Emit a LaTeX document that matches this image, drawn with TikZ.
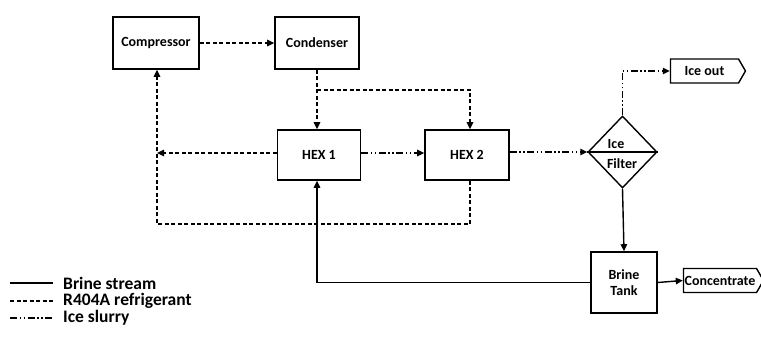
\documentclass[tikz,border=0pt]{standalone}
\usepackage{fontspec}
\setmainfont{Carlito}
\usetikzlibrary{shapes.geometric,shapes.symbols,arrows.meta}
\begin{document}
\begin{tikzpicture}[x=1pt,y=-1pt,
  lbl/.style={font=\bfseries\fontsize{14}{15.5}\selectfont},
  box/.style={draw,line width=1.6pt,rectangle,inner sep=0pt,lbl,align=center},
  tag/.style={draw,line width=1.4pt,signal,signal to=east,signal pointer angle=120,inner sep=1pt,lbl,minimum height=24},
  conn/.style={line width=1.4pt},
  tip/.style={-{Triangle[length=7pt,width=6.5pt]}},
  brine/.style={conn},
  refr/.style={conn,dash pattern=on 4pt off 2.5pt},
  slurry/.style={conn,dash pattern=on 7pt off 2.5pt on 1.5pt off 2.5pt on 1.5pt off 2.5pt},
  legtext/.style={anchor=west,inner sep=0pt,font=\bfseries\fontsize{17.5}{19}\selectfont}]
\useasboundingbox (0,0) rectangle (761,347);
\fill[white] (0,0) rectangle (761,347);
\node[box,minimum width=86,minimum height=52] (comp) at (156,43) {Compressor};
\node[box,minimum width=84,minimum height=52] (cond) at (317,43) {Condenser};
\node[box,minimum width=83,minimum height=50] (hex1) at (319,155) {HEX 1};
\node[box,minimum width=84,minimum height=50] (hex2) at (467,155) {HEX 2};
\node[draw,line width=1.4pt,diamond,minimum width=69,minimum height=72,inner sep=0pt] (filt) at (622.5,152) {};
\node[inner sep=0pt,lbl] (ftop) at (616,144) {Ice};
\node[inner sep=0pt,lbl] (fbot) at (622,164) {Filter};
\draw[line width=1.3pt] (filt.west) -- (filt.east);
\node[box,minimum width=66,minimum height=61] (tank) at (624,282.5) {Brine\\Tank};
\node[tag,minimum width=75] (iceout) at (704.5,71) {Ice out};
\node[tag,minimum width=80,inner sep=0.5pt] (conc) at (720,280.5) {Concentrate};
% refrigerant
\draw[refr,tip] (comp) -- (cond);
\draw[refr,tip] (cond.south) -- (cond.south |- hex1.north);
\coordinate (j1) at (317,90);
\draw[refr,tip] (j1) -| ([xshift=3]hex2.north);
\coordinate (lft) at (157,153);
\draw[refr,tip] (hex1.west |- lft) -- (lft);
\coordinate (bot) at (157,224);
\draw[refr,tip] ([xshift=3]hex2.south) |- (bot) -- (bot |- comp.south);
% slurry
\draw[slurry,tip] (hex1.east |- lft) -- (hex2.west |- lft);
\draw[slurry,tip] (hex2.east |- filt.west) -- (filt.west);
\draw[slurry,tip] (filt.north) |- (iceout.west);
% brine
\draw[brine,tip] (filt.south) -- (tank.north);
\draw[brine,tip] (tank.west) -| ([xshift=-2]hex1.south);
\draw[brine,tip] (tank.east) -- (conc.west);
% legend
\coordinate (la1) at (10,283); \coordinate (lb1) at (53,283);
\coordinate (la2) at (10,301); \coordinate (lb2) at (53,301);
\coordinate (la3) at (10,318); \coordinate (lb3) at (53,318);
\draw[brine] (la1) -- (lb1);
\draw[refr] (la2) -- (lb2);
\draw[slurry] (la3) -- (lb3);
\node[legtext] (t1) at (63,283) {Brine stream};
\node[legtext] (t2) at (63,301) {R404A refrigerant};
\node[legtext] (t3) at (63,318) {Ice slurry};
\end{tikzpicture}
\end{document}
